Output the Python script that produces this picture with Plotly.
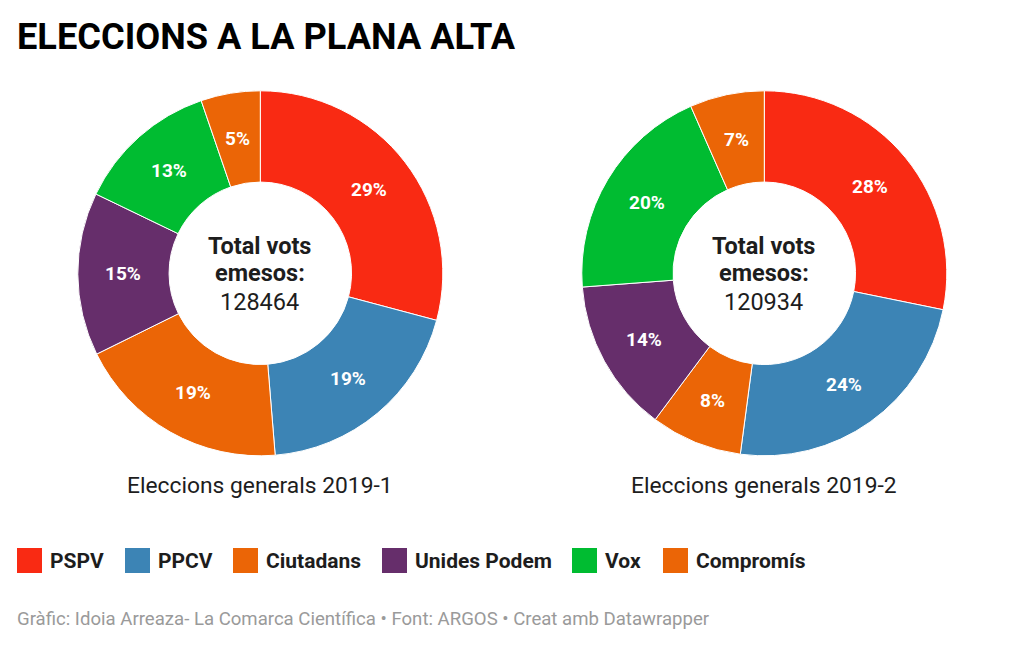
import math
import plotly.graph_objects as go

parties = ["PSPV", "PPCV", "Ciutadans", "Unides Podem", "Vox", "Compromís"]
colors = ["#f92a13", "#3c84b5", "#eb6506", "#662e6b", "#00bc31", "#eb6506"]
values_1 = [29.15, 19.55, 19.0, 14.45, 12.6, 5.25]
values_2 = [28.2, 23.9, 8.1, 13.6, 19.6, 6.6]
labels_1 = ["29%", "19%", "19%", "15%", "13%", "5%"]
labels_2 = ["28%", "24%", "8%", "14%", "20%", "7%"]
totals = ["128464", "120934"]
titles = ["Eleccions generals 2019-1", "Eleccions generals 2019-2"]
W, H = 1024, 647
FONT = "Roboto"

fig = go.Figure()
centers = [260.3, 764.3]
CY = 273.3
R = 182.5
ann = []


def text(x, y, s, size, color="#1d1d1d", anchor="center", weight=400):
    ann.append(dict(x=x / W, y=1 - y / H, xref="paper", yref="paper", text=s, showarrow=False,
                    xanchor=anchor, yanchor="middle",
                    font=dict(family=FONT, size=size, color=color, weight=weight)))


for vals, labs, cx in zip([values_1, values_2], [labels_1, labels_2], centers):
    fig.add_trace(go.Pie(
        labels=parties, values=vals, text=labs, textinfo="none", hole=0.5,
        sort=False, direction="clockwise", rotation=0, showlegend=False,
        marker=dict(colors=colors, line=dict(color="white", width=1)),
        domain=dict(x=[(cx - R) / W, (cx + R) / W], y=[1 - (CY + R) / H, 1 - (CY - R) / H]),
        hoverinfo="label+text",
    ))
    # slice labels sit at the middle of each ring segment, derived from the values
    total = sum(vals)
    cum = 0.0
    for v, lab in zip(vals, labs):
        a = 2 * math.pi * (cum + v / 2) / total
        cum += v
        text(cx + 0.75 * R * math.sin(a), CY - 0.75 * R * math.cos(a), lab, 19, "white", "center", 700)

text(15, 36, "ELECCIONS A LA PLANA ALTA", 36.2, "#000000", "left", 700)
for cx, tot, t in zip(centers, totals, titles):
    text(cx - 0.5, 246, "Total vots", 23.5, "#1d1d1d", "center", 700)
    text(cx - 0.5, 273, "emesos:", 23.5, "#1d1d1d", "center", 700)
    text(cx - 0.5, 302, tot, 23.5)
    text(cx - 0.5, 485, t, 22.8)
text(15, 619, "Gràfic: Idoia Arreaza- La Comarca Científica • Font: ARGOS • Creat amb Datawrapper", 18.6, "#9a9a9a", "left")

shapes = []
legend_x = [17, 125, 233, 382, 572, 663]
for x, p, c in zip(legend_x, parties, colors):
    shapes.append(dict(type="rect", xref="paper", yref="paper", x0=x / W, x1=(x + 25) / W,
                       y0=1 - 573 / H, y1=1 - 548 / H, fillcolor=c, line=dict(width=0)))
    text(x + 31, 561, p, 21, "#1d1d1d", "left", 700)

fig.update_layout(width=W, height=H, autosize=False, margin=dict(l=0, r=0, t=0, b=0),
                  paper_bgcolor="white", plot_bgcolor="white",
                  annotations=ann, shapes=shapes, showlegend=False)
fig.write_html("out.html", config={"displayModeBar": False},
               post_script="document.body.style.margin='0';")
